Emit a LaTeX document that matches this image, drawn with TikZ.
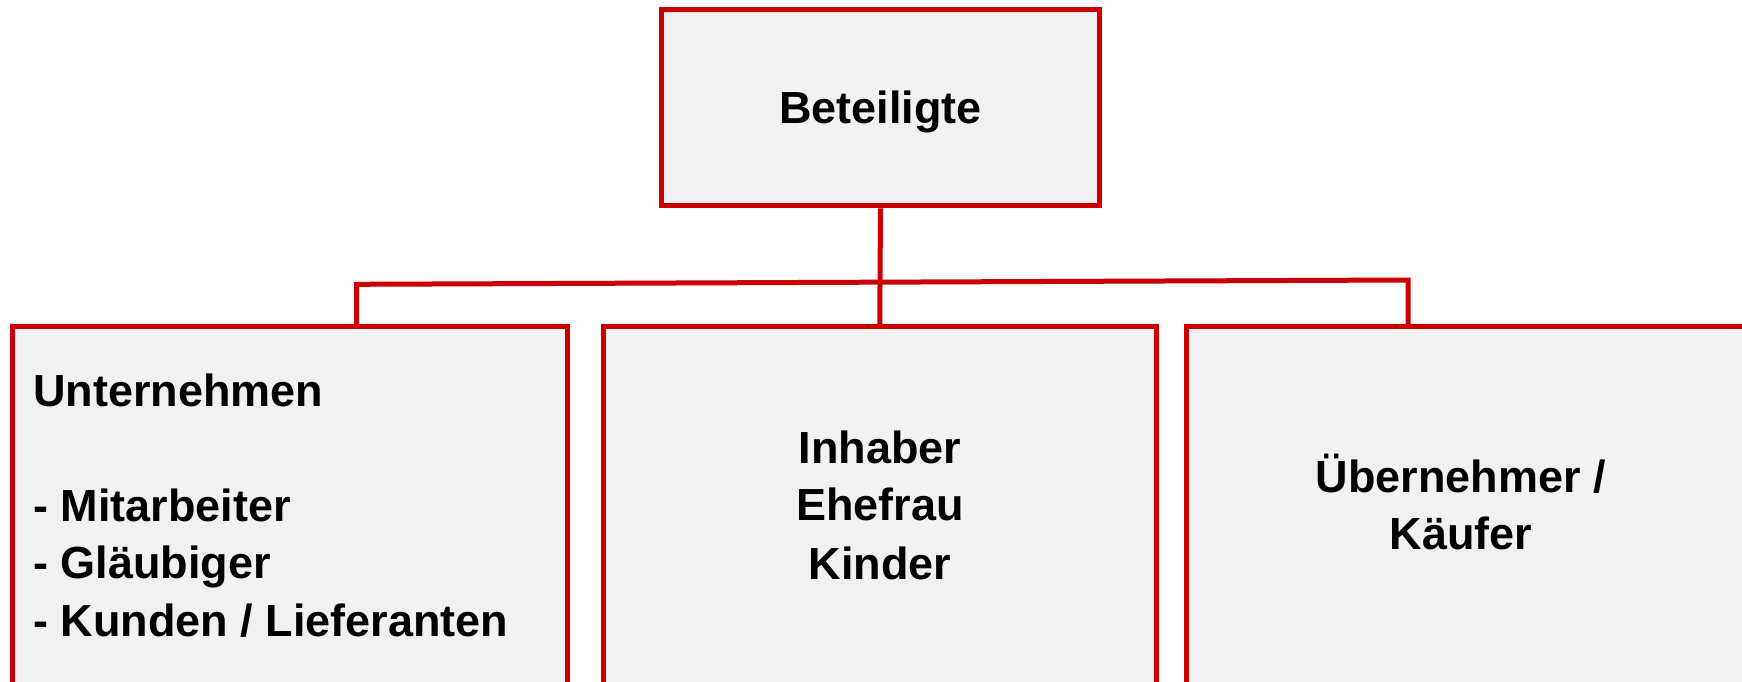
\documentclass[tikz,border=0pt]{standalone}
\usepackage{fontspec}
\setmainfont{Liberation Sans}
\usetikzlibrary{fit}
\definecolor{bred}{HTML}{CC0000}
\definecolor{bfill}{HTML}{F1F1F1}
\begin{document}
\begin{tikzpicture}[x=0.5pt,y=-0.5pt,
  box/.style={draw=bred, line width=2.5pt, fill=bfill, inner sep=0pt},
  conn/.style={draw=bred, line width=2.5pt},
  lbl/.style={font=\fontsize{22.5}{28.6}\selectfont\bfseries, inner sep=0pt, anchor=base}]
\useasboundingbox (0,0) rectangle (1742,681);
\clip (0,0) rectangle (1742,681);
\fill[white] (0,0) rectangle (1742,681);
% boxes
\node[box, fit={(661.5,9.8) (1099.5,205.8)}] (top) {};
\node[box, fit={(12.5,326.7) (567.5,740)}] (left) {};
\node[box, fit={(603.5,326.7) (1156,740)}] (mid) {};
\node[box, fit={(1186.5,326.7) (1820,740)}] (right) {};
% connectors
\coordinate (hl) at (356.7,284.3);
\coordinate (hr) at (1408,280);
\draw[conn] (top.south) -- (mid.north);
\draw[conn] (hl |- left.north) -- (hl) -- (hr) -- (hr |- right.north);
% texts
\node[lbl] (t0) at (880.5,123) {Beteiligte};
\node[lbl, anchor=base west] (l1) at (33,406.7) {Unternehmen};
\node[lbl, anchor=base west] (l2) at (33,521) {- Mitarbeiter};
\node[lbl, anchor=base west] (l3) at (33,578.5) {- Gläubiger};
\node[lbl, anchor=base west] (l4) at (33,636.5) {- Kunden / Lieferanten};
\node[lbl] (m1) at (880,463.3) {Inhaber};
\node[lbl] (m2) at (880,520.5) {Ehefrau};
\node[lbl] (m3) at (880,579) {Kinder};
\node[lbl] (r1) at (1461,492.7) {Übernehmer /};
\node[lbl] (r2) at (1461,549.3) {Käufer};
\end{tikzpicture}
\end{document}
